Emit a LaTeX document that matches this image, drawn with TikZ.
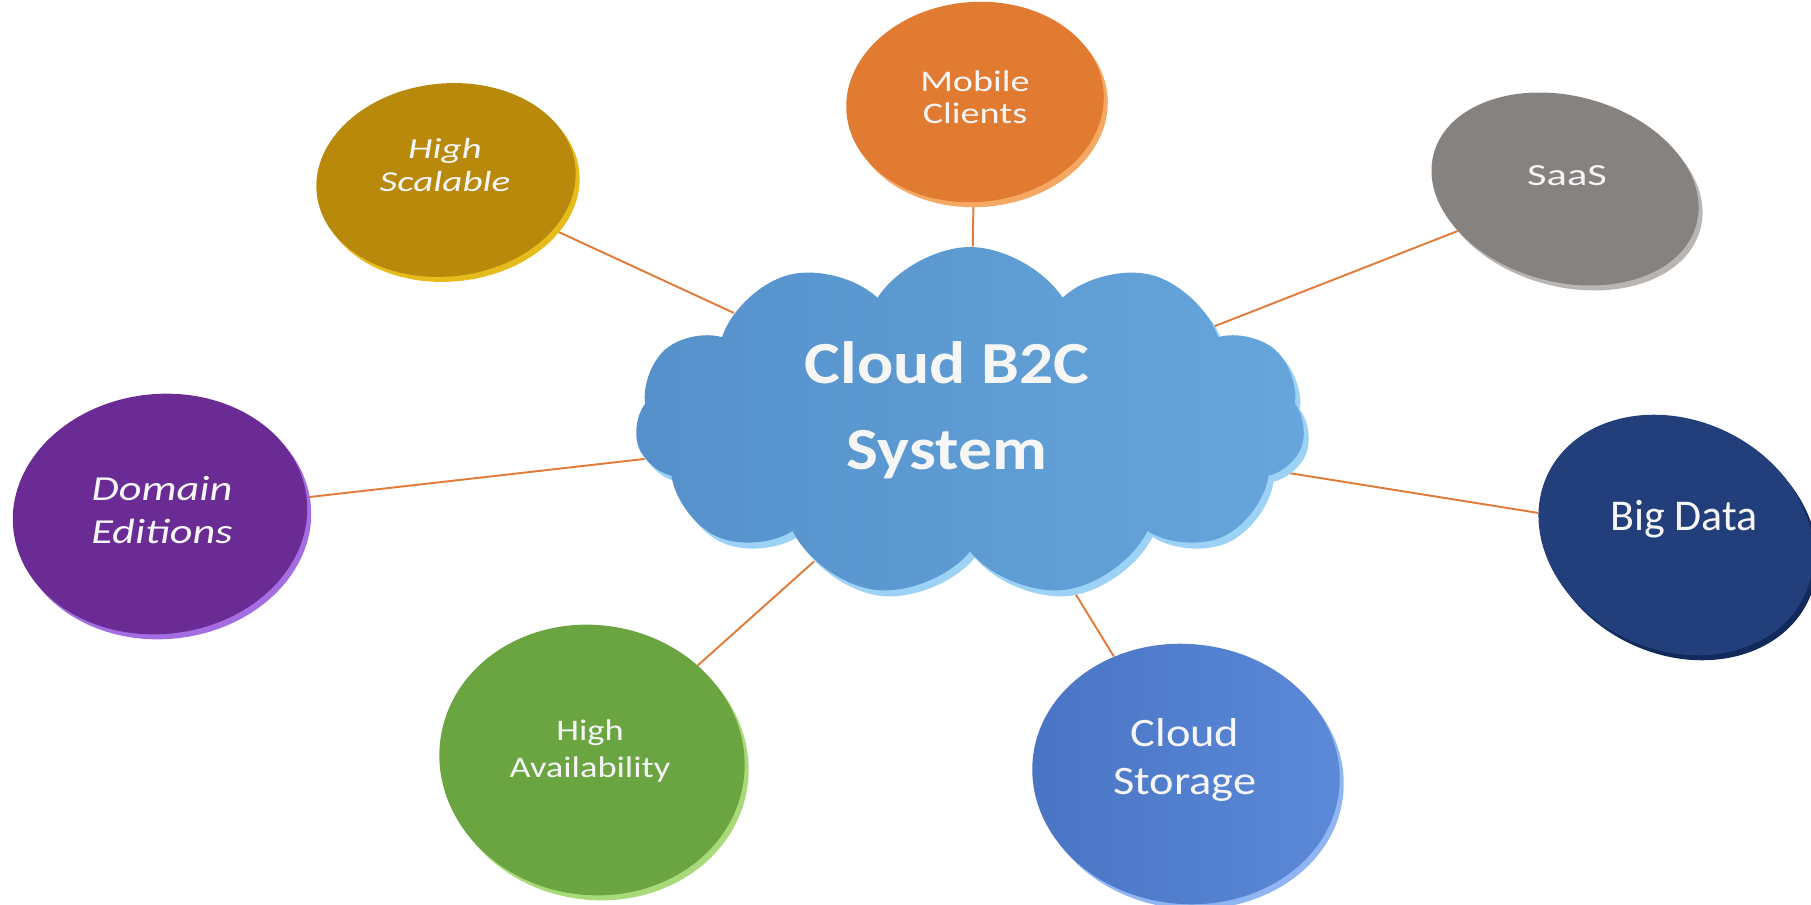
\documentclass[tikz,border=0pt]{standalone}
\usepackage{fontspec}
\setmainfont{Carlito}
\usetikzlibrary{shapes.geometric,shapes.symbols,backgrounds}
\definecolor{goldc}{HTML}{B8890A}\definecolor{goldr}{HTML}{E6BC1C}
\definecolor{orangec}{HTML}{E27B32}\definecolor{oranger}{HTML}{F5A862}
\definecolor{grayc}{HTML}{858280}\definecolor{grayr}{HTML}{B8B5B3}
\definecolor{purplec}{HTML}{6A2B95}\definecolor{purpler}{HTML}{A46DE2}
\definecolor{navyc}{HTML}{233F7B}\definecolor{navyr}{HTML}{12295C}
\definecolor{greenc}{HTML}{6AA542}\definecolor{greenr}{HTML}{A9DA7A}
\definecolor{csl}{HTML}{4874C3}\definecolor{csr}{HTML}{5C8AD8}\definecolor{csrim}{HTML}{8FB6F2}
\definecolor{cll}{HTML}{5590CA}\definecolor{clr}{HTML}{66A6DC}\definecolor{clrim}{HTML}{9CD2F6}
\definecolor{linkc}{HTML}{E07B39}
\definecolor{txt}{HTML}{F6F6F6}
\begin{document}
\begin{tikzpicture}[x=0.02cm,y=0.02cm,
  disc/.style={ellipse, inner sep=0pt, draw=none},
  rim/.style={ellipse, inner sep=0pt, draw=none},
  lbl/.style={text=txt, align=center, inner sep=0pt},
  link/.style={draw=linkc, line width=1.1pt}]
\useasboundingbox (0,0) rectangle (1811,-905);

% ---- central cloud ----
\node[shape=cloud, cloud puffs=11, cloud puff arc=115, aspect=1.9, inner sep=0pt,
      minimum width=13.4cm, minimum height=7.0cm, fill=clrim] at (975,-428) {};
\node[shape=cloud, cloud puffs=11, cloud puff arc=115, aspect=1.9, inner sep=0pt,
      minimum width=13.4cm, minimum height=7.0cm, left color=cll, right color=clr] (cloud) at (970,-422) {};
\node[lbl, xscale=1.13, font=\fontsize{34}{49}\selectfont\bfseries] (cloudt) at (947,-410) {Cloud B2C\\System};

% ---- High Scalable ----
\node[rim, fill=goldr, minimum width=5.2cm, minimum height=3.86cm, rotate=6] at (450,-185) {};
\node[disc, fill=goldc, minimum width=5.2cm, minimum height=3.86cm, rotate=6] (hs) at (446,-180) {};
\node[lbl, xscale=1.35, font=\fontsize{16.5}{19}\selectfont\itshape] (hst) at (445,-165) {High\\Scalable};

% ---- Mobile Clients ----
\node[rim, fill=oranger, minimum width=5.16cm, minimum height=4.0cm, rotate=5] at (979,-107) {};
\node[disc, fill=orangec, minimum width=5.16cm, minimum height=4.0cm, rotate=5] (mc) at (975,-102) {};
\node[lbl, xscale=1.28, font=\fontsize{17}{18.5}\selectfont] (mct) at (975,-97) {Mobile\\Clients};

% ---- SaaS ----
\node[rim, fill=grayr, minimum width=5.44cm, minimum height=3.72cm, rotate=-15] at (1569,-194) {};
\node[disc, fill=grayc, minimum width=5.44cm, minimum height=3.72cm, rotate=-15] (saas) at (1565,-189) {};
\node[lbl, xscale=1.38, font=\fontsize{17.5}{20}\selectfont] (saast) at (1567,-176) {SaaS};

% ---- Domain Editions ----
\node[rim, fill=purpler, minimum width=5.9cm, minimum height=4.8cm, rotate=6] at (164,-519) {};
\node[disc, fill=purplec, minimum width=5.9cm, minimum height=4.8cm, rotate=6] (de) at (160,-514) {};
\node[lbl, xscale=1.26, font=\fontsize{20}{24}\selectfont\itshape] (det) at (162,-510) {Domain\\Editions};

% ---- Big Data ----
\node[rim, fill=navyr, minimum width=5.68cm, minimum height=4.6cm, rotate=-25] at (1680,-540) {};
\node[disc, fill=navyc, minimum width=5.68cm, minimum height=4.6cm, rotate=-25] (bd) at (1676,-535) {};
\node[lbl, font=\fontsize{25}{30}\selectfont] (bdt) at (1684,-519) {Big Data};

% ---- High Availability ----
\node[rim, fill=greenr, minimum width=6.12cm, minimum height=5.4cm, rotate=-8] at (596,-765) {};
\node[disc, fill=greenc, minimum width=6.12cm, minimum height=5.4cm, rotate=-8] (ha) at (592,-760) {};
\node[lbl, xscale=1.22, font=\fontsize{17}{21}\selectfont] (hat) at (590,-751) {High\\Availability};

% ---- Cloud Storage ----
\node[rim, fill=csrim, minimum width=6.16cm, minimum height=5.2cm, rotate=-6] at (1190,-779) {};
\node[disc, left color=csl, right color=csr, minimum width=6.16cm, minimum height=5.2cm, rotate=-6] (cs) at (1186,-774) {};
\node[lbl, xscale=1.15, font=\fontsize{23}{27.5}\selectfont] (cst) at (1185,-760) {Cloud\\Storage};

% ---- connectors ----
\begin{scope}[on background layer]
\draw[link] (hs) -- (cloud);
\draw[link] (mc) -- (cloud);
\draw[link] (saas) -- (cloud);
\draw[link] (de) -- (cloud);
\draw[link] (bd) -- (cloud);
\draw[link] (ha) -- (cloud);
\draw[link] (cs) -- (cloud);
\end{scope}
\end{tikzpicture}
\end{document}
